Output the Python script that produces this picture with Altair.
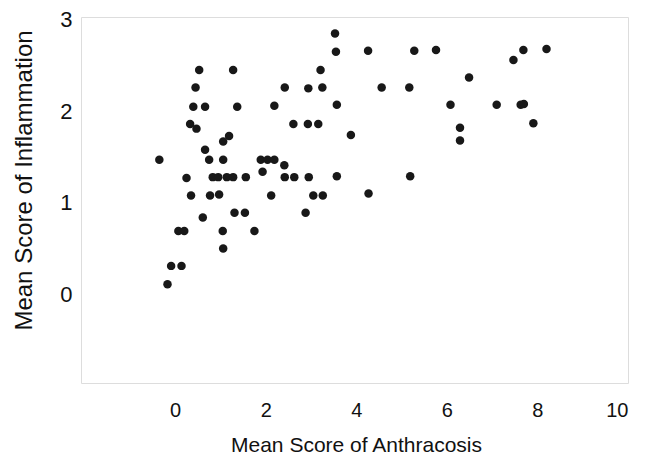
import altair as alt
import pandas as pd

anthracosis = [3.53, 3.55, 4.26, 0.53, 1.28, 3.21, 0.45, 2.42, 2.94, 3.25,
               4.56, 0.40, 0.66, 1.37, 2.19, 3.57, 0.33, 0.47, 2.61, 2.93,
               3.16, 1.19, 1.06, 3.88, 0.66, -0.35, 0.75, 1.06, 1.89, 2.04,
               2.19, 2.41, 0.25, 0.83, 0.95, 1.14, 1.28, 1.56, 1.93, 2.42,
               2.63, 2.95, 3.57, 0.35, 0.77, 0.97, 2.12, 3.05, 3.26, 4.27,
               0.61, 1.31, 1.54, 2.88, 0.07, 0.20, 1.05, 1.75, 1.06, -0.09,
               0.14, -0.17, 5.28, 5.76, 7.69, 8.20, 7.47, 6.49, 5.17, 6.08,
               7.10, 7.63, 7.70, 6.29, 6.29, 7.91, 5.19]
inflammation = [2.85, 2.65, 2.66, 2.45, 2.45, 2.45, 2.26, 2.26, 2.25, 2.26,
                2.26, 2.05, 2.05, 2.05, 2.06, 2.07, 1.86, 1.81, 1.86, 1.86,
                1.86, 1.73, 1.67, 1.74, 1.58, 1.47, 1.47, 1.47, 1.47, 1.47,
                1.47, 1.41, 1.27, 1.28, 1.28, 1.28, 1.28, 1.28, 1.34, 1.28,
                1.28, 1.28, 1.29, 1.08, 1.08, 1.09, 1.08, 1.08, 1.08, 1.10,
                0.84, 0.89, 0.89, 0.89, 0.69, 0.69, 0.69, 0.69, 0.50, 0.31,
                0.31, 0.11, 2.66, 2.67, 2.67, 2.68, 2.56, 2.37, 2.26, 2.07,
                2.07, 2.07, 2.08, 1.82, 1.68, 1.87, 1.29]

x_ticks = [0, 2, 4, 6, 8, 10]
y_ticks = [0, 1, 2, 3]

df = pd.DataFrame({"anthracosis": anthracosis, "inflammation": inflammation})

FONT = "Liberation Sans"

chart = alt.Chart(df).mark_circle(size=72, color="#181818", opacity=1).encode(
    x=alt.X("anthracosis:Q",
            scale=alt.Scale(domain=[-2.08, 10], nice=False, zero=False),
            axis=alt.Axis(values=x_ticks, title="Mean Score of Anthracosis",
                          grid=False, domain=False, ticks=False,
                          labelFontSize=20, labelPadding=17, labelColor="#111",
                          labelFont=FONT, labelBound=False, labelOverlap=False,
                          titleFont=FONT, titleFontSize=21, titleFontWeight="normal",
                          titleColor="#111", titleX=275, titleY=68,
                          titleAlign="center", titleBaseline="alphabetic")),
    y=alt.Y("inflammation:Q",
            scale=alt.Scale(domain=[-0.97, 3.03], nice=False, zero=False),
            axis=alt.Axis(values=y_ticks, title="Mean Score of Inflammation",
                          grid=False, domain=False, ticks=False,
                          labelFontSize=22, labelPadding=9, labelColor="#111",
                          labelFont=FONT, labelBound=False, labelOverlap=False,
                          titleFont=FONT, titleFontSize=24, titleFontWeight="normal",
                          titleColor="#111", titleAngle=-90, titleX=-57, titleY=163,
                          titleAlign="center", titleBaseline="middle")),
).properties(
    width=547,
    height=366,
    autosize=alt.AutoSizeParams(type="none"),
    padding={"left": 73, "top": 9, "right": 13, "bottom": 73},
).configure_view(
    stroke="#555555", strokeWidth=1.3
).configure(background="white")

chart.save("out.html", embed_options={"renderer": "svg", "actions": False})
